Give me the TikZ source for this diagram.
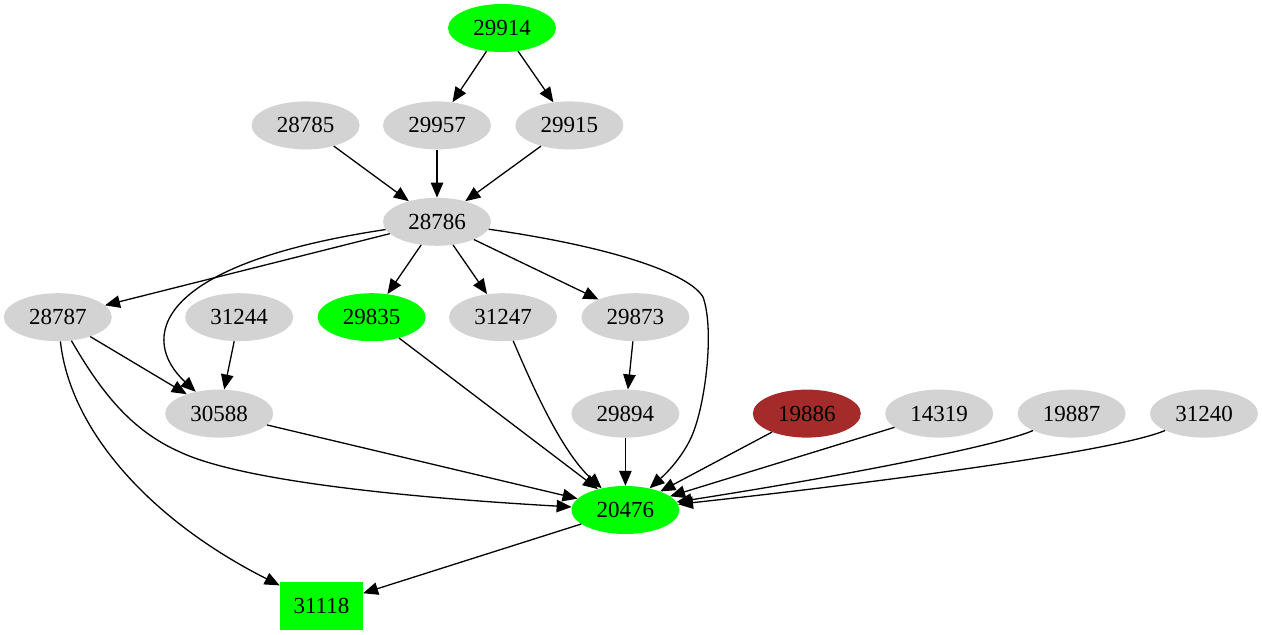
\documentclass[tikz,border=0pt]{standalone}
\usepackage{fontspec}
\setmainfont{Liberation Serif}
\usepackage{tikz}
\usetikzlibrary{arrows.meta,shapes.geometric,positioning}
\definecolor{gvgreen}{HTML}{00FF00}
\definecolor{gvgray}{HTML}{D3D3D3}
\definecolor{gvbrown}{HTML}{A52A2A}
\tikzset{
    %Define style for the grey jobs
    job/.style={
           ellipse,
           draw=none,
           inner sep=0pt,
           minimum width=108pt,
           minimum height=48pt,
           font=\fontsize{23}{28}\selectfont,
           text centered,
           fill=gvgray},
    done/.style={
           job,
           fill=gvgreen},
    failed/.style={
           job,
           fill=gvbrown},
    sink/.style={
           rectangle,
           draw=none,
           inner sep=0pt,
           minimum width=83pt,
           minimum height=48pt,
           font=\fontsize{23}{28}\selectfont,
           text centered,
           fill=gvgreen},
    % Define arrow style
    dep/.style={
           ->,
           line width=1.3pt}
}
\begin{document}
\begin{tikzpicture}[x=1pt,y=-1pt,>={Triangle[length=15pt,width=12.5pt]},
  every edge/.style={draw,dep}]
\useasboundingbox (0,0) rectangle (1262,635);
 %nodes
\node[done](29914) at (502,28){29914};
\node[job, below=49pt of 29914, xshift=-65pt](29957){29957};
\node[job, right=24pt of 29957](29915){29915};
\node[job, left=23pt of 29957](28785){28785};
\node[job, below=48pt of 29957](28786){28786};
\node[job, below=47pt of 28786, xshift=66pt](31247){31247};
\node[done, left=23pt of 31247](29835){29835};
\node[job, right=24pt of 31247](29873){29873};
\node[job, left=24pt of 29835](31244){31244};
\node[job, left=73pt of 31244](28787){28787};
\node[job, below=48pt of 29873, xshift=-10pt](29894){29894};
\node[failed, right=73pt of 29894](19886){19886};
\node[job, right=24pt of 19886](14319){14319};
\node[job, right=24pt of 14319](19887){19887};
\node[job, right=24pt of 19887](31240){31240};
\node[job, below=48pt of 31244, xshift=-20pt](30588){30588};
\node[done, below=48pt of 29894](20476){20476};
\node[sink, below=48pt of 20476, xshift=-304pt](31118){31118};
 %straight edges
\path
    (29914) edge (29957) edge (29915)
    (28785) edge (28786)
    (29957) edge (28786)
    (29915) edge (28786)
    (28786) edge (28787) edge (29835) edge (31247) edge (29873)
    (28787) edge (30588)
    (31244) edge (30588)
    (29873) edge (29894)
    (29835) edge (20476)
    (29894) edge (20476)
    (30588) edge (20476)
    (19886) edge (20476)
    (14319) edge (20476)
    (20476) edge (31118);
 %curved edges
\draw[dep] (28786) .. controls (150,265) and (140,340) .. (30588);
\draw[dep] (28786) .. controls (620,248) and (690,275) .. (703,297)
    .. controls (715,330) and (705,410) .. (690,440)
    .. controls (682,456) and (670,470) .. (20476);
\draw[dep] (28787) .. controls (100,390) and (130,430) .. (180,452)
    .. controls (250,485) and (450,500) .. (20476);
\draw[dep] (28787) .. controls (70,430) and (150,520) .. (31118);
\draw[dep] (31247) .. controls (530,380) and (560,450) .. (20476);
\draw[dep] (19887) .. controls (1000,445) and (850,475) .. (20476);
\draw[dep] (31240) .. controls (1120,450) and (900,480) .. (20476);
\end{tikzpicture}
\end{document}
